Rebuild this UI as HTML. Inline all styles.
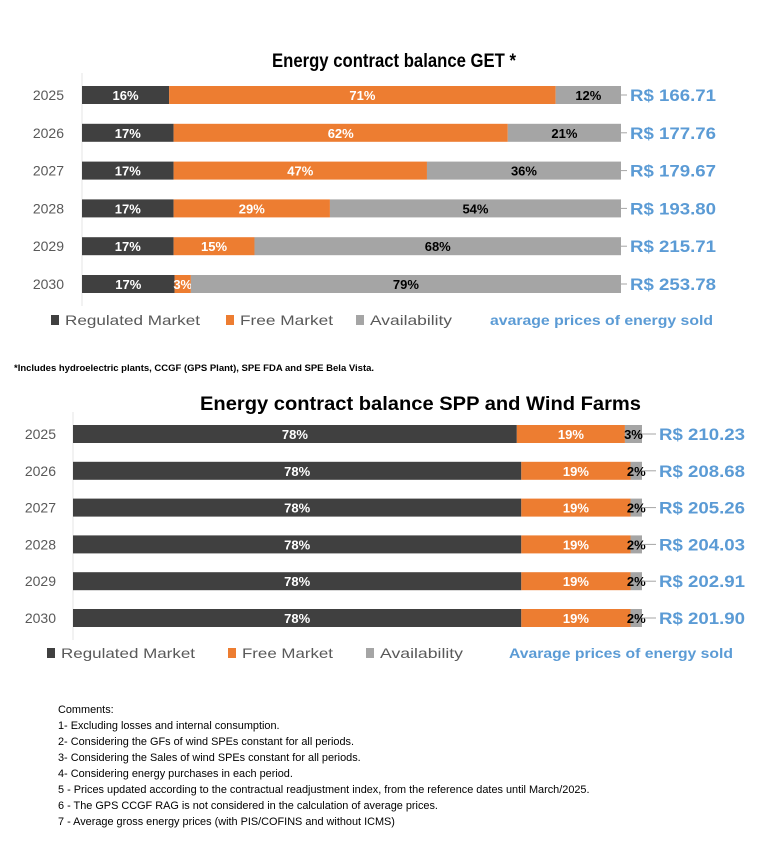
<!DOCTYPE html>
<html><head><meta charset="utf-8">
<style>
body{margin:0;background:#fff;width:784px;height:853px;overflow:hidden;font-family:"Liberation Sans",sans-serif;}
svg text{font-family:"Liberation Sans",sans-serif;}
.cm{position:absolute;left:58px;font-size:10.9px;color:#000;line-height:16px}
</style></head><body>
<svg width="784" height="853" style="position:absolute;left:0;top:0">
<text x="272" y="67" textLength="244" lengthAdjust="spacingAndGlyphs" font-size="19" font-weight="bold">Energy contract balance GET *</text>
<text x="200" y="410" textLength="441" lengthAdjust="spacingAndGlyphs" font-size="19" font-weight="bold">Energy contract balance SPP and Wind Farms</text>
<g id="c1"></g><g id="c2"></g>
<text x="14" y="371" font-size="9.5" font-weight="bold">*Includes hydroelectric plants, CCGF (GPS Plant), SPE FDA and SPE Bela Vista.</text>
</svg>
<div class="cm" style="top:702px">Comments:<br>1- Excluding losses and internal consumption.<br>2- Considering the GFs of wind SPEs constant for all periods.<br>3- Considering the Sales of wind SPEs constant for all periods.<br>4- Considering energy purchases in each period.<br>5 - Prices updated according to the contractual readjustment index, from the reference dates until March/2025.<br>6 - The GPS CCGF RAG is not considered in the calculation of average prices.<br>7 - Average gross energy prices (with PIS/COFINS and without ICMS)</div>
<script>
const years=["2025","2026","2027","2028","2029","2030"];
const get_reg=[16,17,17,17,17,17];
const get_free=[71,62,47,29,15,3];
const get_avail=[12,21,36,54,68,79];
const get_price=["R$ 166.71","R$ 177.76","R$ 179.67","R$ 193.80","R$ 215.71","R$ 253.78"];
const spp_reg=[78,78,78,78,78,78];
const spp_free=[19,19,19,19,19,19];
const spp_avail=[3,2,2,2,2,2];
const spp_price=["R$ 210.23","R$ 208.68","R$ 205.26","R$ 204.03","R$ 202.91","R$ 201.90"];
const NS="http://www.w3.org/2000/svg";
function mk(p,t,a){const e=document.createElementNS(NS,t);for(const k in a)e.setAttribute(k,a[k]);p.appendChild(e);return e;}
const cols=["#404040","#ed7d31","#a5a5a5"];
const txtc=["#fff","#fff","#000"];
function draw(g,cfg){
  mk(g,"line",{x1:cfg.x0,x2:cfg.x0,y1:cfg.y0-22,y2:cfg.y0+cfg.step*5+22,stroke:"#e6e6e6"});
  years.forEach((y,i)=>{
    const cy=cfg.y0+i*cfg.step;
    const yt=mk(g,"text",{x:cfg.yx,y:cy+5,"text-anchor":"end","font-size":14,fill:"#595959"});
    
    
    yt.textContent=y;
    const vals=[cfg.a[i],cfg.b[i],cfg.c[i]];
    const sum=vals[0]+vals[1]+vals[2];
    let x=cfg.x0;
    vals.forEach((v,j)=>{
      const w=v/sum*cfg.w;
      const r=mk(g,"rect",{x:x,y:cy-9,width:w,height:18,fill:cols[j]});
      
      
      const t=mk(g,"text",{x:x+w/2,y:cy+5,"text-anchor":"middle","font-size":13,"font-weight":"bold",fill:txtc[j]});
      
      
      t.textContent=v+"%";
      x+=w;
    });
    mk(g,"line",{x1:cfg.x0+cfg.w,x2:cfg.px-3,y1:cy,y2:cy,stroke:"#a5a5a5"});
    const p=mk(g,"text",{x:cfg.px,y:cy+6,"font-size":17,"font-weight":"bold",fill:"#5b9bd5",textLength:86,lengthAdjust:"spacingAndGlyphs"});
    
    
    p.textContent=cfg.p[i];
  });
  const L=cfg.leg;
  const items=[["Regulated Market",cols[0]],["Free Market",cols[1]],["Availability",cols[2]]];
  items.forEach((it,j)=>{
    mk(g,"rect",{x:L.xs[j],y:L.y-10,width:8,height:10,fill:it[1]});
    const t=mk(g,"text",{x:L.xs[j]+14,y:L.y,"font-size":14,fill:"#595959",textLength:L.ws[j],lengthAdjust:"spacingAndGlyphs"});
    
    
    t.textContent=it[0];
  });
  const t=mk(g,"text",{x:L.px,y:L.y,"font-size":14,"font-weight":"bold",fill:"#5b9bd5",textLength:L.pw,lengthAdjust:"spacingAndGlyphs"});
  
  
  t.textContent=L.pt;
}
draw(document.getElementById("c1"),{x0:82,w:539,y0:95,step:37.8,yx:64,px:630,a:get_reg,b:get_free,c:get_avail,p:get_price,
  leg:{y:325,xs:[51,226,356],ws:[135,93,82],px:490,pw:223,pt:"avarage prices of energy sold"}});
draw(document.getElementById("c2"),{x0:73,w:569,y0:434,step:36.8,yx:56,px:659,a:spp_reg,b:spp_free,c:spp_avail,p:spp_price,
  leg:{y:658,xs:[47,228,366],ws:[134,91,83],px:509,pw:224,pt:"Avarage prices of energy sold"}});
</script>
</body></html>
